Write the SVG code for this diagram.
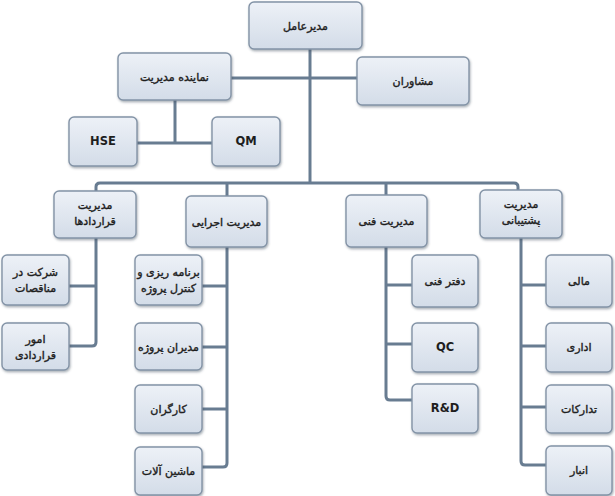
<svg xmlns="http://www.w3.org/2000/svg" width="615" height="496" viewBox="0 0 615 496">
<defs>
<linearGradient id="g" x1="0" y1="0" x2="0" y2="1">
<stop offset="0" stop-color="#edf1f7"/>
<stop offset="1" stop-color="#d3dce8"/>
</linearGradient>
<filter id="sh" x="-10%" y="-10%" width="125%" height="130%">
<feDropShadow dx="0.8" dy="1.5" stdDeviation="0.9" flood-color="#3c4a5a" flood-opacity="0.45"/>
</filter>
<style>
.b{fill:url(#g);stroke:#8393a6;stroke-width:1.4;filter:url(#sh)}
.t{font-family:"DejaVu Sans",sans-serif;font-size:11px;fill:#1e1e1e;stroke:#1e1e1e;stroke-width:0.4;text-anchor:middle;direction:rtl}
.l{font-family:"DejaVu Sans",sans-serif;font-weight:bold;font-size:11.5px;fill:#1e1e1e;text-anchor:middle}
.c{fill:none;stroke:#687c91;stroke-width:3;stroke-linejoin:round}
</style>
</defs>
<rect width="615" height="496" fill="#ffffff"/>
<g id="connectors">
<path class="c" d="M310 49V183"/>
<path class="c" d="M231 78H357"/>
<path class="c" d="M175 100V143M137 143H212"/>
<path class="c" d="M96 191V187Q96 183 100 183H514Q518 183 518 187V190"/>
<path class="c" d="M227 183V196M386 183V195"/>
<path class="c" d="M96 238V342Q96 346 92 346H69M69 286H96"/>
<path class="c" d="M227 247V463Q227 467 223 467H202M202 286H227M202 347H227M202 409H227"/>
<path class="c" d="M386 247V396Q386 400 390 400H412M386 285H412M386 344H412"/>
<path class="c" d="M521 238V461Q521 465 525 465H546M521 285H546M521 346H546M521 407H546"/>
</g>
<g id="ceo"><rect class="b" x="249" y="2" width="113" height="47" rx="5"/><text class="t" x="305.5" y="30">مدیرعامل</text></g>
<g id="rep"><rect class="b" x="118" y="53" width="113" height="47" rx="5"/><text class="t" x="174.5" y="81">نماینده مدیریت</text></g>
<g id="advisors"><rect class="b" x="357" y="57" width="112" height="48" rx="5"/><text class="t" x="413" y="85">مشاوران</text></g>
<g id="hse"><rect class="b" x="69" y="117" width="68" height="49" rx="5"/><text class="l" x="103" y="145">HSE</text></g>
<g id="qm"><rect class="b" x="212" y="117" width="68" height="49" rx="5"/><text class="l" x="246" y="145">QM</text></g>
<g id="contracts"><rect class="b" x="54" y="191" width="82" height="47" rx="5"/><text class="t" x="95" y="209">مدیریت</text><text class="t" x="95" y="225">قراردادها</text></g>
<g id="exec"><rect class="b" x="186" y="196" width="81" height="51" rx="5"/><text class="t" x="226.5" y="226">مدیریت اجرایی</text></g>
<g id="tech"><rect class="b" x="346" y="195" width="81" height="52" rx="5"/><text class="t" x="386.5" y="225">مدیریت فنی</text></g>
<g id="support"><rect class="b" x="480" y="190" width="82" height="48" rx="5"/><text class="t" x="521" y="208">مدیریت</text><text class="t" x="521" y="224">پشتیبانی</text></g>
<g id="tender"><rect class="b" x="2" y="255" width="67" height="50" rx="5"/><text class="t" x="35.5" y="276">شرکت در</text><text class="t" x="35.5" y="292">مناقصات</text></g>
<g id="contractaffairs"><rect class="b" x="2" y="323" width="67" height="47" rx="5"/><text class="t" x="35.5" y="343">امور</text><text class="t" x="35.5" y="359">قراردادی</text></g>
<g id="planning"><rect class="b" x="135" y="255" width="67" height="50" rx="5"/><text class="t" x="168.5" y="276">برنامه ریزی و</text><text class="t" x="168.5" y="292">کنترل پروژه</text></g>
<g id="pm"><rect class="b" x="135" y="323" width="67" height="47" rx="5"/><text class="t" x="168.5" y="351">مدیران پروژه</text></g>
<g id="workers"><rect class="b" x="135" y="385" width="67" height="48" rx="5"/><text class="t" x="168.5" y="413">کارگران</text></g>
<g id="machinery"><rect class="b" x="135" y="447" width="67" height="48" rx="5"/><text class="t" x="168.5" y="475">ماشین آلات</text></g>
<g id="techoffice"><rect class="b" x="412" y="255" width="66" height="52" rx="5"/><text class="t" x="445" y="285">دفتر فنی</text></g>
<g id="qc"><rect class="b" x="412" y="323" width="66" height="49" rx="5"/><text class="l" x="445" y="351">QC</text></g>
<g id="rd"><rect class="b" x="412" y="384" width="66" height="49" rx="5"/><text class="l" x="445" y="412">R&amp;D</text></g>
<g id="finance"><rect class="b" x="546" y="255" width="66" height="52" rx="5"/><text class="t" x="579" y="285">مالی</text></g>
<g id="admin"><rect class="b" x="546" y="323" width="66" height="49" rx="5"/><text class="t" x="579" y="351">اداری</text></g>
<g id="procurement"><rect class="b" x="546" y="385" width="66" height="48" rx="5"/><text class="t" x="579" y="413">تدارکات</text></g>
<g id="warehouse"><rect class="b" x="546" y="446" width="66" height="49" rx="5"/><text class="t" x="579" y="474">انبار</text></g>
</svg>
